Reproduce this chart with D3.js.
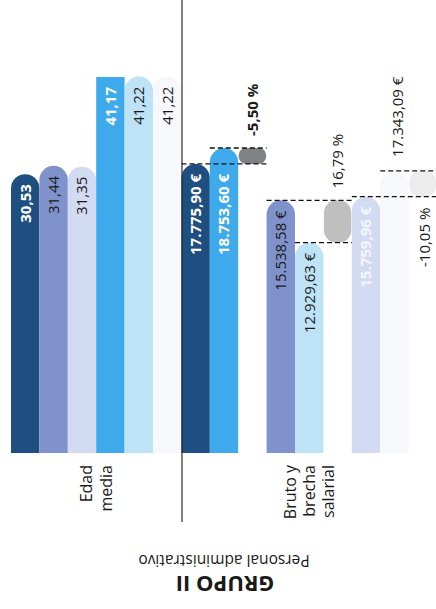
<!DOCTYPE html>
<html>
<head>
<meta charset="utf-8">
<script src="https://cdn.jsdelivr.net/npm/d3@7"></script>
<style>
    body { margin: 0; background: #ffffff; }
    svg { display: block; font-family: "Open Sans", "Noto Sans", sans-serif; }
</style>
</head>
<body>
<script>
    // Chart values
    var ageValues = [30.53, 31.44, 31.35, 41.17, 41.22, 41.22];
    var ageLabels = ['30,53', '31,44', '31,35', '41,17', '41,22', '41,22'];
    var salaryValues = [17775.90, 18753.60, 15538.58, 12929.63, 15759.96, 17343.09];
    var salaryLabels = ['17.775,90 €', '18.753,60 €', '15.538,58 €', '12.929,63 €', '15.759,96 €', '17.343,09 €'];
    var gapLabels = ['-5,50 %', '16,79 %', '-10,05 %'];
    var groupNames = [['Edad', 'media'], ['Bruto y', 'brecha', 'salarial']];
    var title = 'GRUPO II';
    var subtitle = 'Personal administrativo';

    // Frame
    var width = 436,
        height = 609,
        baseY = 453,
        axisX = 182;

    var palette = ['#1f4f80', '#7f92cb', '#d3dbf3', '#3eaaeb', '#bee2f6', '#f6f8fc'];
    var pillColors = ['#808184', '#bfbfbf', '#ececec'];

    var svg = d3.select('body')
        .append('svg')
        .attr('width', width)
        .attr('height', height);

    // 15 slots: 6 age bars, then 3 x (bar, bar, gap pill)
    var x = d3.scaleBand()
        .domain(d3.range(15))
        .range([11, 437])
        .padding(0);

    var yAge = d3.scaleLinear()
        .domain([0, 41.17])
        .range([baseY, 77]);

    var ySal = d3.scaleLinear()
        .domain([0, 18753.60])
        .range([baseY, 148]);

    var bw = x.bandwidth();

    function barPath(x0, top, rounded) {
        var r = bw / 2;
        if (!rounded) {
            return 'M' + x0 + ',' + baseY + 'V' + top + 'H' + (x0 + bw) + 'V' + baseY + 'Z';
        }
        return 'M' + x0 + ',' + baseY + 'V' + (top + r) +
            'A' + r + ',' + r + ' 0 0 1 ' + (x0 + bw) + ',' + (top + r) +
            'V' + baseY + 'Z';
    }

    function vText(g, cx, y, anchor, txt, bold, fill) {
        g.append('text')
            .attr('transform', 'translate(' + cx + ',' + y + ') rotate(-90)')
            .attr('text-anchor', anchor)
            .attr('dy', '0.36em')
            .style('font-size', '15px')
            .style('font-weight', bold ? 700 : 400)
            .style('fill', fill)
            .text(txt);
    }

    // Age bars
    var ageG = svg.append('g').attr('class', 'age');
    ageValues.forEach(function (v, i) {
        var top = yAge(v);
        ageG.append('path')
            .attr('d', barPath(x(i), top, i !== 3))
            .style('fill', palette[i]);
        var white = (i === 0 || i === 3);
        vText(ageG, x(i) + bw / 2, top + 10, 'end', ageLabels[i], white, white ? '#ffffff' : '#1a1a1a');
    });

    // Salary bars, pairs with gap pill
    var salG = svg.append('g').attr('class', 'salary');
    var lines = svg.append('g').attr('class', 'dashes');
    for (var p = 0; p < 3; p++) {
        var a = salaryValues[p * 2],
            b = salaryValues[p * 2 + 1],
            sa = 6 + p * 3,
            sb = sa + 1,
            sp = sa + 2,
            ta = ySal(a),
            tb = ySal(b);

        salG.append('path').attr('d', barPath(x(sa), ta, true)).style('fill', palette[p]);
        salG.append('path').attr('d', barPath(x(sb), tb, true)).style('fill', palette[p + 3]);

        // gap pill between both bar tops
        var pTop = Math.min(ta, tb),
            pH = Math.abs(ta - tb),
            rr = Math.min(bw, pH) / 2 * 0.9;
        salG.append('rect')
            .attr('x', x(sp) + 0.5)
            .attr('y', pTop)
            .attr('width', bw - 1)
            .attr('height', pH)
            .attr('rx', rr)
            .attr('ry', rr)
            .style('fill', pillColors[p]);

        // dashed reference lines
        [[sa, ta], [sb, tb]].forEach(function (d) {
            lines.append('line')
                .attr('x1', x(d[0]))
                .attr('x2', Math.min(x(sp) + bw, width))
                .attr('y1', d[1])
                .attr('y2', d[1])
                .style('stroke', '#111')
                .style('stroke-width', 1.3)
                .style('stroke-dasharray', '5,3');
        });

        // value labels
        var la = p === 0 ? Math.max(ta, tb) : ta;
        var lb = p === 0 ? Math.max(ta, tb) : tb;
        var whiteA = p !== 1;
        vText(salG, x(sa) + bw / 2, la + 10, 'end', salaryLabels[p * 2], whiteA, whiteA ? (p === 2 ? '#f4f6fd' : '#ffffff') : '#1a1a1a');
        if (p === 0) {
            vText(salG, x(sb) + bw / 2, lb + 10, 'end', salaryLabels[p * 2 + 1], true, '#ffffff');
        } else if (p === 1) {
            vText(salG, x(sb) + bw / 2, lb + 10, 'end', salaryLabels[p * 2 + 1], false, '#1a1a1a');
        } else {
            vText(salG, x(sb) + bw / 2 + 3, tb - 14, 'start', salaryLabels[p * 2 + 1], false, '#1a1a1a');
        }

        // gap label
        var gx = x(sp) + bw / 2;
        if (p < 2) {
            vText(salG, gx, pTop - 12, 'start', gapLabels[p], p === 0, '#1a1a1a');
        } else {
            vText(salG, gx + 2, pTop + pH + 11, 'end', gapLabels[p], false, '#1a1a1a');
        }
    }

    // Vertical divider
    svg.append('line')
        .attr('x1', axisX).attr('x2', axisX)
        .attr('y1', 0).attr('y2', 522)
        .style('stroke', '#2a2a2a')
        .style('stroke-width', 1.2);

    // Group names
    var groupCenters = [(x(0) + x(5) + bw) / 2, (x(6) + x(14) + bw) / 2];
    groupNames.forEach(function (lns, g) {
        var t = svg.append('text')
            .attr('transform', 'translate(' + groupCenters[g] + ',465) rotate(-90)')
            .attr('text-anchor', 'end')
            .style('font-size', '16px')
            .style('fill', '#1a1a1a');
        var off = -(lns.length - 1) / 2 * 1.2;
        lns.forEach(function (l, k) {
            t.append('tspan')
                .attr('x', 0)
                .attr('dy', k === 0 ? (off + 0.36) + 'em' : '1.2em')
                .text(l);
        });
    });

    // Title, upside down
    svg.append('text')
        .attr('transform', 'translate(224,561) rotate(180)')
        .attr('text-anchor', 'middle')
        .attr('dy', '0.36em')
        .style('font-size', '15.5px')
        .style('fill', '#1a1a1a')
        .text(subtitle);

    svg.append('text')
        .attr('transform', 'translate(225,584) rotate(180)')
        .attr('text-anchor', 'middle')
        .attr('dy', '0.36em')
        .style('font-size', '22px')
        .style('font-weight', 700)
        .style('fill', '#1a1a1a')
        .text(title);
</script>
</body>
</html>
